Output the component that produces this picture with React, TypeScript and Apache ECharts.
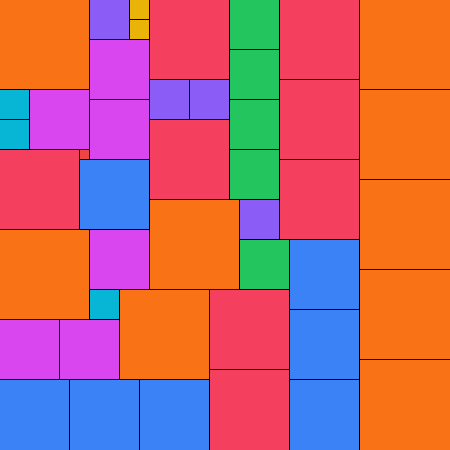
import React, { useEffect, useRef } from "react";
import * as echarts from "echarts";

// square side length per kind
const sizes = [90, 80, 70, 60, 50, 40, 30, 20, 10];
const colors = [
  "#f97316", // orange
  "#f43f5e", // rose
  "#3b82f6", // blue
  "#d946ef", // fuchsia
  "#22c55e", // green
  "#8b5cf6", // violet
  "#06b6d4", // cyan
  "#eab308", // yellow
  "#ef4444", // red
];
const extent = 450;

// [x, y, kind]
const orangeSquares = [[0, 0], [360, 0], [360, 90], [360, 180], [360, 270], [360, 360], [150, 200], [0, 230], [120, 290]];
const roseSquares = [[150, 0], [280, 0], [280, 80], [280, 160], [150, 120], [0, 150], [210, 290], [210, 370]];
const blueSquares = [[80, 160], [290, 240], [290, 310], [290, 380], [0, 380], [70, 380], [140, 380]];
const fuchsiaSquares = [[90, 40], [30, 90], [90, 100], [90, 230], [0, 320], [60, 320]];
const greenSquares = [[230, 0], [230, 50], [230, 100], [230, 150], [240, 240]];
const violetSquares = [[90, 0], [150, 80], [190, 80], [240, 200]];
const cyanSquares = [[0, 90], [0, 120], [90, 290]];
const yellowSquares = [[130, 0], [130, 20]];
const redSquares = [[80, 150]];

const groups = [
  orangeSquares,
  roseSquares,
  blueSquares,
  fuchsiaSquares,
  greenSquares,
  violetSquares,
  cyanSquares,
  yellowSquares,
  redSquares,
];

export default function App() {
  const ref = useRef<HTMLDivElement>(null);
  useEffect(() => {
    if (!ref.current) return;
    const chart = echarts.init(ref.current, null, { renderer: "svg" });
    const data: number[][] = [];
    groups.forEach((g, k) => g.forEach(([x, y]) => data.push([x, y, k])));
    chart.setOption({
      animation: false,
      grid: { left: 0, top: 0, right: 0, bottom: 0 },
      xAxis: { type: "value", min: 0, max: extent, show: false },
      yAxis: { type: "value", min: 0, max: extent, inverse: true, show: false },
      series: [
        {
          type: "custom",
          silent: true,
          data,
          renderItem: (params: any, api: any) => {
            const x = api.value(0);
            const y = api.value(1);
            const k = api.value(2);
            const s = sizes[k];
            const p0 = api.coord([x, y]);
            const p1 = api.coord([x + s, y + s]);
            const children: any[] = [
              {
                type: "rect",
                shape: { x: p0[0], y: p0[1], width: p1[0] - p0[0], height: p1[1] - p0[1] },
                style: { fill: colors[k] },
              },
            ];
            if (x + s < extent) {
              children.push({
                type: "line",
                shape: { x1: p1[0] - 0.5, y1: p0[1], x2: p1[0] - 0.5, y2: p1[1] },
                style: { stroke: "#000", lineWidth: 1 },
              });
            }
            if (y + s < extent) {
              children.push({
                type: "line",
                shape: { x1: p0[0], y1: p1[1] - 0.5, x2: p1[0], y2: p1[1] - 0.5 },
                style: { stroke: "#000", lineWidth: 1 },
              });
            }
            return { type: "group", children };
          },
        },
      ],
    });
    return () => chart.dispose();
  }, []);
  return (
    <div
      ref={ref}
      style={{ position: "fixed", left: 0, top: 0, width: 450, height: 450 }}
    />
  );
}
